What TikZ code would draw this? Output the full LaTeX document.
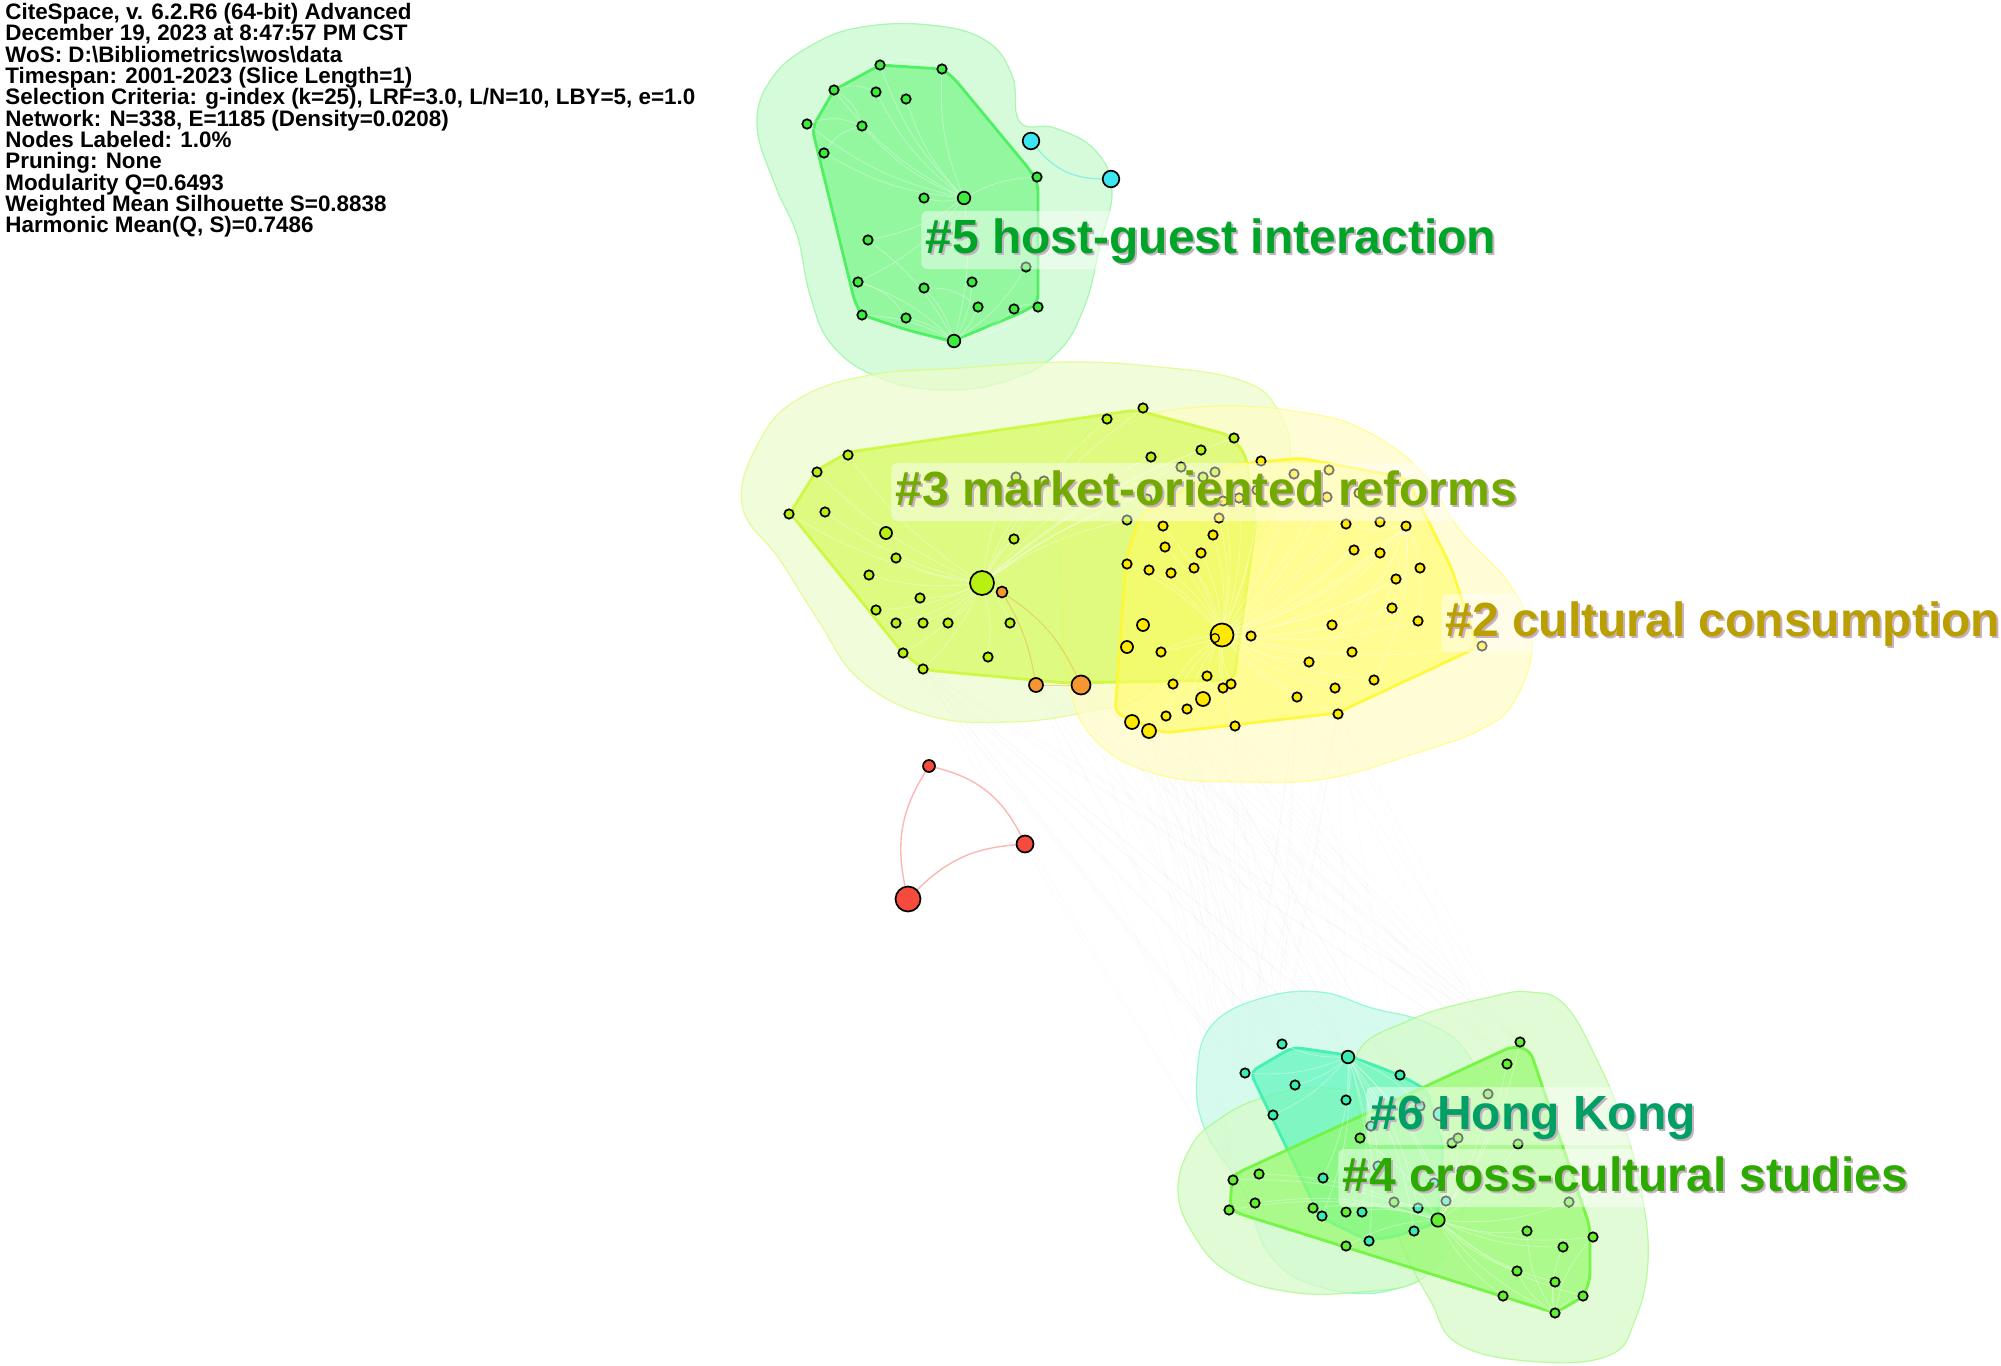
\documentclass[tikz,border=0pt]{standalone}
\usepackage{fontspec}
\setmainfont{Liberation Sans}
\pgfdeclarelayer{web}
\pgfdeclarelayer{bg}
\pgfdeclarelayer{edges}
\pgfsetlayers{web,bg,edges,main}
\definecolor{c5cloud}{RGB}{200,250,205}
\definecolor{c5hull}{RGB}{125,245,140}
\definecolor{c5line}{RGB}{70,240,90}
\definecolor{c5node}{RGB}{60,235,60}
\definecolor{cyannode}{RGB}{60,230,240}
\definecolor{c3cloud}{RGB}{236,252,205}
\definecolor{c3hull}{RGB}{215,250,100}
\definecolor{c3line}{RGB}{205,248,60}
\definecolor{c3node}{RGB}{185,240,20}
\definecolor{c2cloud}{RGB}{255,252,200}
\definecolor{c2hull}{RGB}{255,252,100}
\definecolor{c2line}{RGB}{255,248,50}
\definecolor{c2node}{RGB}{255,232,0}
\definecolor{orangenode}{RGB}{245,150,50}
\definecolor{rednode}{RGB}{245,75,60}
\definecolor{c6cloud}{RGB}{200,250,232}
\definecolor{c6hull}{RGB}{100,245,190}
\definecolor{c6line}{RGB}{60,240,175}
\definecolor{c6node}{RGB}{60,235,175}
\definecolor{c4cloud}{RGB}{215,250,200}
\definecolor{c4hull}{RGB}{150,250,110}
\definecolor{c4line}{RGB}{110,245,60}
\definecolor{c4node}{RGB}{100,240,50}
\definecolor{labfive}{RGB}{0,165,40}
\definecolor{labthree}{RGB}{115,170,0}
\definecolor{labtwo}{RGB}{185,160,0}
\definecolor{labsix}{RGB}{0,160,100}
\definecolor{labfour}{RGB}{45,170,0}
\definecolor{labshadow}{RGB}{200,175,195}
\begin{document}
\begin{tikzpicture}[x=0.5pt,y=-0.5pt,
  nd/.style={circle,draw=black,line width=0.85pt,inner sep=0pt,minimum size=4.7pt},
  cloud/.style={line width=0.6pt,draw opacity=0.6,fill opacity=0.75},
  hull/.style={line width=1.4pt,rounded corners=4pt,fill opacity=0.75,draw opacity=0.9},
  edg/.style={line width=0.4pt,opacity=0.35},
  webline/.style={line width=0.3pt,draw=gray,opacity=0.045},
  lbox/.style={font=\fontsize{24}{24}\selectfont\bfseries,text opacity=0,fill=white,fill opacity=0.45,
    rounded corners=3pt,inner xsep=2pt,inner ysep=3pt,text height=18pt,text depth=5pt},
  ltext/.style={font=\fontsize{24}{24}\selectfont\bfseries,inner xsep=2pt,inner ysep=3pt,text height=18pt,text depth=5pt}]
\useasboundingbox (0,0) rectangle (2001,1365);

% ---------- header ----------
\node[anchor=north west,align=left,inner sep=0pt,font=\fontsize{11.2}{10.65}\selectfont\bfseries] (hdr) at (5,3)
{CiteSpace, v. 6.2.R6 (64-bit) Advanced\\
December 19, 2023 at 8:47:57 PM CST\\
WoS: D:\textbackslash Bibliometrics\textbackslash wos\textbackslash data\\
Timespan: 2001-2023 (Slice Length=1)\\
Selection Criteria: g-index (k=25), LRF=3.0, L/N=10, LBY=5, e=1.0\\
Network: N=338, E=1185 (Density=0.0208)\\
Nodes Labeled: 1.0\%\\
Pruning: None\\
Modularity Q=0.6493\\
Weighted Mean Silhouette S=0.8838\\
Harmonic Mean(Q, S)=0.7486};

% ---------- clouds and hulls ----------
\begin{pgfonlayer}{bg}
\filldraw[cloud,fill=c5cloud,draw=c5hull] plot[smooth cycle,tension=0.7] coordinates {(757,125) (772,78) (812,45) (862,27) (930,25) (985,40) (1012,75) (1020,122) (1055,128) (1095,150) (1112,190) (1100,245) (1085,305) (1058,352) (1010,380) (945,390) (880,378) (832,345) (810,295) (797,235) (775,185)};
\filldraw[cloud,fill=c3cloud,draw=c3hull] plot[smooth cycle,tension=0.7] coordinates {(742,505) (760,440) (800,398) (870,375) (960,368) (1060,362) (1150,366) (1240,380) (1278,410) (1290,460) (1270,520) (1210,600) (1150,690) (1085,712) (1010,722) (930,716) (860,680) (818,620) (780,560)};
\filldraw[cloud,fill=c2cloud,draw=c2hull] plot[smooth cycle,tension=0.7] coordinates {(1072,470) (1095,428) (1160,412) (1230,406) (1300,412) (1360,428) (1420,470) (1460,530) (1510,585) (1532,640) (1515,700) (1480,730) (1410,755) (1330,778) (1250,782) (1160,775) (1095,740) (1068,680) (1062,600) (1062,530)};
\filldraw[cloud,fill=c6cloud,draw=c6hull] plot[smooth cycle,tension=0.7] coordinates {(1197,1075) (1212,1025) (1262,998) (1320,992) (1372,1008) (1425,1022) (1465,1050) (1482,1100) (1472,1175) (1445,1255) (1392,1290) (1320,1287) (1270,1255) (1243,1190) (1205,1130)};
\filldraw[cloud,fill=c4cloud,draw=c4hull] plot[smooth cycle,tension=0.7] coordinates {(1178,1190) (1190,1148) (1215,1122) (1262,1098) (1330,1088) (1400,1110) (1440,1170) (1440,1240) (1420,1280) (1360,1292) (1290,1292) (1228,1272) (1192,1232)};
\filldraw[cloud,fill=c4cloud,draw=c4hull] plot[smooth cycle,tension=0.7] coordinates {(1355,1060) (1410,1020) (1490,997) (1530,992) (1565,1005) (1598,1062) (1625,1128) (1642,1195) (1648,1262) (1635,1320) (1610,1355) (1540,1362) (1460,1345) (1430,1300) (1400,1240) (1370,1150)};
% hulls
\filldraw[hull,fill=c5hull,draw=c5line] (880,65) -- (942,69) -- (953,77) -- (1030,170) -- (1038,183) -- (1038,303) -- (1023,312) -- (960,338) -- (954,342) -- (907,330) -- (862,315) -- (855,303) -- (812,128) -- (834,90) -- cycle;
\filldraw[hull,fill=c3hull,draw=c3line] (790,513) -- (817,470) -- (849,452) -- (1136,410) -- (1229,435) -- (1245,453) -- (1256,520) -- (1234,680) -- (1066,683) -- (925,670) -- (903,653) -- cycle;
\filldraw[hull,fill=c2hull,draw=c2line,fill opacity=0.6] (1126,560) -- (1140,515) -- (1230,465) -- (1300,458) -- (1407,478) -- (1451,567) -- (1478,647) -- (1337,713) -- (1164,733) -- (1115,713) -- cycle;
\filldraw[hull,fill=c6hull,draw=c6line] (1250,1072) -- (1293,1047) -- (1347,1055) -- (1400,1075) -- (1427,1090) -- (1443,1147) -- (1437,1223) -- (1393,1237) -- (1367,1240) -- (1320,1217) -- cycle;
\filldraw[hull,fill=c4hull,draw=c4line,fill opacity=0.7] (1513,1046) -- (1530,1050) -- (1590,1227) -- (1590,1280) -- (1583,1297) -- (1555,1313) -- (1237,1213) -- (1230,1208) -- (1232,1178) -- (1237,1173) -- cycle;
\end{pgfonlayer}

% ---------- nodes ----------
% cluster 5
\foreach \x/\y [count=\i] in {880/65,942/69,834/90,876/92,906/99,807/124,862/126,824/153,924/198,1037/177,868/240,858/282,924/288,972/282,978/307,1014/309,1038/307,862/315,906/318,1026/267}
  \node[nd,fill=c5node] (g\i) at (\x,\y) {};
\node[nd,fill=c5node,minimum size=6.3pt] (G1) at (964,198) {};
\node[nd,fill=c5node,minimum size=6.3pt] (G2) at (954,341) {};
\node[nd,fill=cyannode,minimum size=8.3pt] (C1) at (1031,141) {};
\node[nd,fill=cyannode,minimum size=8.3pt] (C2) at (1111,179) {};
% cluster 3
\foreach \x/\y [count=\i] in {1143/408,1107/419,848/455,817/472,789/514,825/512,1014/539,896/558,869/575,920/598,876/610,896/623,923/623,948/623,1010/623,903/653,988/657,923/669,1151/457,1201/450,1234/438,1016/477,1044/481,1181/467,1203/477,1215/472,1147/499,1127/520}
  \node[nd,fill=c3node] (a\i) at (\x,\y) {};
\node[nd,fill=c3node,minimum size=12pt] (A1) at (982,583) {};
\node[nd,fill=c3node,minimum size=6pt] (A2) at (886,533) {};
% cluster 2
\foreach \x/\y [count=\i] in {1261/461,1294/474,1329/470,1327/497,1359/493,1239/498,1257/490,1223/501,1219/518,1482/646,1163/526,1213/535,1165/547,1201/553,1127/564,1149/570,1171/573,1194/568,1346/524,1380/522,1406/526,1354/550,1380/553,1420/568,1396/579,1392/608,1418/621,1251/636,1332/625,1161/652,1352/652,1309/662,1374/680,1207/676,1173/684,1231/684,1223/688,1335/688,1297/697,1187/709,1166/716,1338/714,1235/726}
  \node[nd,fill=c2node] (b\i) at (\x,\y) {};
\node[nd,fill=c2node,minimum size=11.5pt] (B1) at (1222,635) {};
\node[nd,draw=black,line width=0.6pt,minimum size=4.4pt] (B1in) at (1215,638) {};
\node[nd,fill=c2node,minimum size=6pt] (B2) at (1143,625) {};
\node[nd,fill=c2node,minimum size=6pt] (B3) at (1127,647) {};
\node[nd,fill=c2node,minimum size=7pt] (B4) at (1203,699) {};
\node[nd,fill=c2node,minimum size=7pt] (B5) at (1132,722) {};
\node[nd,fill=c2node,minimum size=7pt] (B6) at (1149,731) {};
% orange
\node[nd,fill=orangenode,minimum size=5.5pt] (O1) at (1002,592) {};
\node[nd,fill=orangenode,minimum size=7pt] (O2) at (1036,685) {};
\node[nd,fill=orangenode,minimum size=9.5pt] (O3) at (1081,685) {};
% red
\node[nd,fill=rednode,minimum size=6pt] (R1) at (929,766) {};
\node[nd,fill=rednode,minimum size=8.5pt] (R2) at (1025,844) {};
\node[nd,fill=rednode,minimum size=12.5pt] (R3) at (908,899) {};
% cluster 6
\foreach \x/\y [count=\i] in {1282/1044,1245/1073,1295/1085,1400/1075,1346/1100,1273/1115,1323/1178,1322/1216,1362/1212,1418/1208,1414/1231,1369/1241,1446/1201,1420/1106,1371/1126,1378/1166,1434/1183}
  \node[nd,fill=c6node] (t\i) at (\x,\y) {};
\node[nd,fill=c6node,minimum size=6.3pt] (T1) at (1348,1057) {};
\node[nd,fill=c6node,minimum size=6.5pt] (T2) at (1440,1114) {};
% cluster 4
\foreach \x/\y [count=\i] in {1520/1042,1507/1064,1360/1138,1452/1143,1518/1144,1233/1180,1259/1174,1229/1210,1255/1203,1313/1208,1346/1212,1346/1246,1527/1231,1593/1237,1563/1247,1517/1271,1555/1282,1503/1296,1583/1296,1555/1313,1488/1094,1458/1138,1462/1171,1394/1202,1569/1202}
  \node[nd,fill=c4node] (f\i) at (\x,\y) {};
\node[nd,fill=c4node,minimum size=6.7pt] (F1) at (1438,1220) {};

% ---------- edges ----------
\begin{pgfonlayer}{web}
\foreach \p in {a16,a18,b35,b40,b41,b43,B5,B6,b39,b42,O2,O3}
  \foreach \q in {t1,t2,T1,f1,t4,f6,f2,t6}
    \draw[webline] (\p) -- (\q);
\end{pgfonlayer}
\begin{pgfonlayer}{edges}
\foreach \i in {1,...,12} \draw[edg,draw=white] (G1) to[bend left=12] (g\i);
\foreach \i in {11,...,20} \draw[edg,draw=white] (G2) to[bend right=12] (g\i);
\draw[edg,draw=white] (G1) to[bend left=10] (G2);
\foreach \p/\q in {g6/g7,g3/g4,g8/g7,g1/g2,g3/g7,g12/g19,g13/g15,g16/g17} \draw[edg,draw=white] (\p) to[bend left=20] (\q);
\draw[line width=0.6pt,draw=cyannode,opacity=0.5] (C1) to[bend right=25] (C2);
\foreach \i in {1,...,28} \draw[edg,draw=white] (A1) to[bend left=10] (a\i);
\foreach \i in {1,...,43} \draw[edg,draw=white] (B1) to[bend right=10] (b\i);
\foreach \i in {19,...,33} \draw[edg,draw=white] (b21) to[bend left=15] (b\i);
\draw[line width=0.5pt,draw=orangenode,opacity=0.4] (O1) to[bend left=10] (O2);
\draw[line width=0.5pt,draw=orangenode,opacity=0.4] (O1) to[bend left=15] (O3);
\draw[line width=0.5pt,draw=orangenode,opacity=0.4] (O2) -- (O3);
\draw[line width=0.7pt,draw=rednode!40] (R1) to[bend right=22] (R3);
\draw[line width=0.7pt,draw=rednode!40] (R1) to[bend left=25] (R2);
\draw[line width=0.7pt,draw=rednode!40] (R3) to[bend left=20] (R2);
\foreach \i in {1,...,17} \draw[edg,draw=white] (T1) to[bend left=12] (t\i);
\foreach \i in {1,...,25} \draw[edg,draw=white] (F1) to[bend right=12] (f\i);
\foreach \i in {13,...,19} \draw[edg,draw=white] (f20) to[bend left=15] (f\i);
\end{pgfonlayer}

% ---------- labels ----------
\node[lbox,anchor=west] (L5b) at (921,240) {\#5 host-guest interaction};
\node[ltext,text=labshadow] at ([shift={(2,2)}]L5b.center) {\#5 host-guest interaction};
\node[ltext,text=labfive] (L5) at (L5b.center) {\#5 host-guest interaction};

\node[lbox,anchor=west] (L3b) at (891,492) {\#3 market-oriented reforms};
\node[ltext,text=labshadow] at ([shift={(2,2)}]L3b.center) {\#3 market-oriented reforms};
\node[ltext,text=labthree] (L3) at (L3b.center) {\#3 market-oriented reforms};

\node[lbox,anchor=west] (L2b) at (1441,623) {\#2 cultural consumption};
\node[ltext,text=labshadow] at ([shift={(2,2)}]L2b.center) {\#2 cultural consumption};
\node[ltext,text=labtwo] (L2) at (L2b.center) {\#2 cultural consumption};

\node[lbox,anchor=west] (L6b) at (1366,1116) {\#6 Hong Kong};
\node[ltext,text=labshadow] at ([shift={(2,2)}]L6b.center) {\#6 Hong Kong};
\node[ltext,text=labsix] (L6) at (L6b.center) {\#6 Hong Kong};

\node[lbox,anchor=west] (L4b) at (1338,1178) {\#4 cross-cultural studies};
\node[ltext,text=labshadow] at ([shift={(2,2)}]L4b.center) {\#4 cross-cultural studies};
\node[ltext,text=labfour] (L4) at (L4b.center) {\#4 cross-cultural studies};
\end{tikzpicture}
\end{document}
